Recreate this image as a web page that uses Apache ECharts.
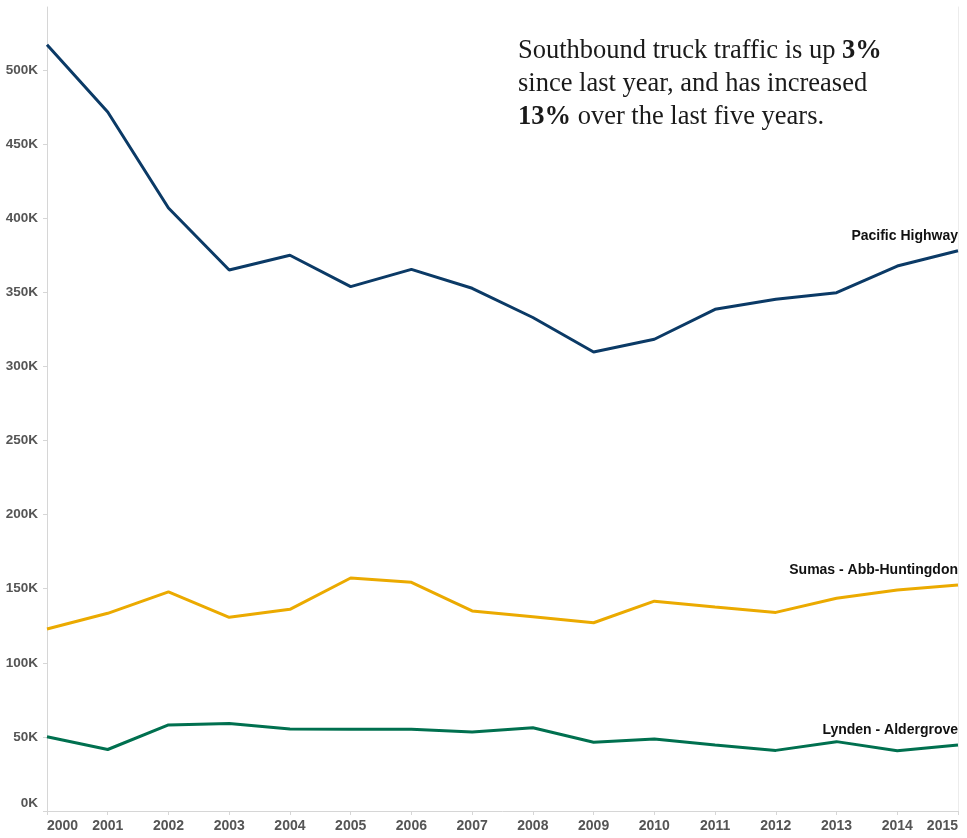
<!DOCTYPE html>
<html>
<head>
<meta charset="utf-8">
<script src="https://cdn.jsdelivr.net/npm/echarts@6/dist/echarts.min.js"></script>
<style>
html,body{margin:0;padding:0;background:#fff;}
#c{width:967px;height:838px;}
</style>
</head>
<body>
<div id="c"></div>
<script>
var years = ['2000','2001','2002','2003','2004','2005','2006','2007','2008','2009','2010','2011','2012','2013','2014','2015'];
var pacificHighway = [517000,471700,406900,365000,375000,353800,365500,352700,333000,309700,318300,338500,345300,349700,367700,378000];
var sumasAbbHuntingdon = [122800,133400,147800,130700,136100,157200,154300,135000,131000,127000,141600,137600,134000,143500,149100,152500];
var lyndenAldergrove = [50100,41500,58100,59000,55300,55100,55100,53300,56200,46400,48600,44500,40900,46800,40600,44500];
var seriesNames = ['Pacific Highway','Sumas - Abb-Huntingdon','Lynden - Aldergrove'];
var seriesColors = ['#0b3a66','#ebaa00','#00704f'];
var yTicks = { min: 0, max: 542500, interval: 50000 };

function withEndLabel(values, name) {
  return values.map(function (v, i) {
    if (i === values.length - 1) {
      return {
        value: v,
        label: {
          show: true,
          formatter: name,
          position: 'top',
          align: 'right',
          distance: 8,
          color: '#111',
          fontFamily: 'Liberation Sans, Arial, sans-serif',
          fontWeight: 'bold',
          fontSize: 14
        }
      };
    }
    return v;
  });
}

var chart = echarts.init(document.getElementById('c'), null, { renderer: 'canvas' });
var dataSets = [pacificHighway, sumasAbbHuntingdon, lyndenAldergrove];

chart.setOption({
  animation: false,
  backgroundColor: '#ffffff',
  grid: { left: 47, right: 9, top: 7, bottom: 27, containLabel: false },
  xAxis: {
    type: 'category',
    data: years,
    boundaryGap: false,
    axisLine: { show: true, lineStyle: { color: '#d6d6d6', width: 1 } },
    axisTick: { show: true, length: 4, lineStyle: { color: '#d6d6d6' } },
    axisLabel: {
      color: '#555555',
      fontFamily: 'Liberation Sans, Arial, sans-serif',
      fontWeight: 'bold',
      fontSize: 14,
      margin: 8,
      interval: 0,
      alignMinLabel: 'left',
      alignMaxLabel: 'right'
    },
    splitLine: { show: false }
  },
  yAxis: [{
    type: 'value',
    min: yTicks.min,
    max: yTicks.max,
    interval: yTicks.interval,
    axisLine: { show: true, lineStyle: { color: '#d6d6d6', width: 1 } },
    axisTick: { show: true, length: 4, lineStyle: { color: '#d6d6d6' } },
    splitLine: { show: false },
    axisLabel: {
      color: '#555555',
      fontFamily: 'Liberation Sans, Arial, sans-serif',
      fontWeight: 'bold',
      fontSize: 13.5,
      margin: 9,
      showMaxLabel: false,
      formatter: function (v) {
        if (v === 0) return '{z|0K}';
        return (v / 1000) + 'K';
      },
      rich: {
        z: {
          color: '#555555',
          fontFamily: 'Liberation Sans, Arial, sans-serif',
          fontWeight: 'bold',
          fontSize: 13.5,
          padding: [0, 0, 16, 0]
        }
      }
    }
  }, {
    type: 'value',
    position: 'right',
    min: yTicks.min,
    max: yTicks.max,
    interval: yTicks.interval,
    axisLine: { show: true, lineStyle: { color: '#ececec', width: 1 } },
    axisTick: { show: false },
    axisLabel: { show: false },
    splitLine: { show: false }
  }],
  graphic: [{
    type: 'text',
    left: 518,
    top: 35,
    style: {
      text: 'Southbound truck traffic is up {b|3%}\nsince last year, and has increased\n{b|13%} over the last five years.',
      fontFamily: 'Liberation Serif, Times New Roman, serif',
      fontSize: 26.5,
      lineHeight: 32.7,
      fill: '#1a1a1a',
      rich: {
        b: {
          fontFamily: 'Liberation Serif, Times New Roman, serif',
          fontSize: 26.5,
          fontWeight: 'bold',
          lineHeight: 32.7,
          fill: '#1a1a1a'
        }
      }
    }
  }],
  series: dataSets.map(function (d, i) {
    return {
      name: seriesNames[i],
      type: 'line',
      data: withEndLabel(d, seriesNames[i]),
      symbol: 'circle',
      symbolSize: 0,
      showSymbol: true,
      smooth: false,
      lineStyle: { color: seriesColors[i], width: 3 },
      itemStyle: { color: seriesColors[i] },
      z: 3 - i
    };
  })
});
</script>
</body>
</html>
